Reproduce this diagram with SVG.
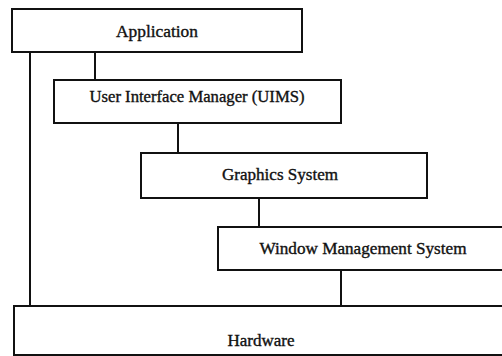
<svg xmlns="http://www.w3.org/2000/svg" width="502" height="356" viewBox="0 0 502 356">
  <style>
    .box { fill: #ffffff; stroke: #111111; stroke-width: 2; }
    .link { stroke: #111111; stroke-width: 2; fill: none; }
    .label { font-family: "Liberation Serif", "Times New Roman", serif; font-size: 16px; fill: #111111; stroke: #111111; stroke-width: 0.35; text-anchor: middle; }
  </style>
  <rect width="502" height="356" fill="#ffffff"/>

  <!-- connectors between layers -->
  <g id="connectors">
    <line class="link" x1="30" y1="52" x2="30" y2="306"/>
    <line class="link" x1="95" y1="52" x2="95" y2="80"/>
    <line class="link" x1="178" y1="123" x2="178" y2="153"/>
    <line class="link" x1="259" y1="198" x2="259" y2="227"/>
    <line class="link" x1="341" y1="270" x2="341" y2="306"/>
  </g>

  <g id="application">
    <rect class="box" x="12" y="9" width="290" height="43"/>
    <text class="label" x="157" y="37" textLength="82" lengthAdjust="spacingAndGlyphs">Application</text>
  </g>

  <g id="uims">
    <rect class="box" x="54" y="80" width="287" height="43"/>
    <text class="label" x="197" y="102" textLength="215" lengthAdjust="spacingAndGlyphs">User Interface Manager (UIMS)</text>
  </g>

  <g id="graphics-system">
    <rect class="box" x="141" y="153" width="286" height="45"/>
    <text class="label" x="280" y="180" textLength="116" lengthAdjust="spacingAndGlyphs">Graphics System</text>
  </g>

  <g id="window-management-system">
    <rect class="box" x="218" y="227" width="292" height="43"/>
    <text class="label" x="363" y="254" textLength="207" lengthAdjust="spacingAndGlyphs">Window Management System</text>
  </g>

  <g id="hardware">
    <rect class="box" x="14" y="306" width="496" height="49"/>
    <text class="label" x="261" y="346" textLength="67" lengthAdjust="spacingAndGlyphs">Hardware</text>
  </g>
</svg>
